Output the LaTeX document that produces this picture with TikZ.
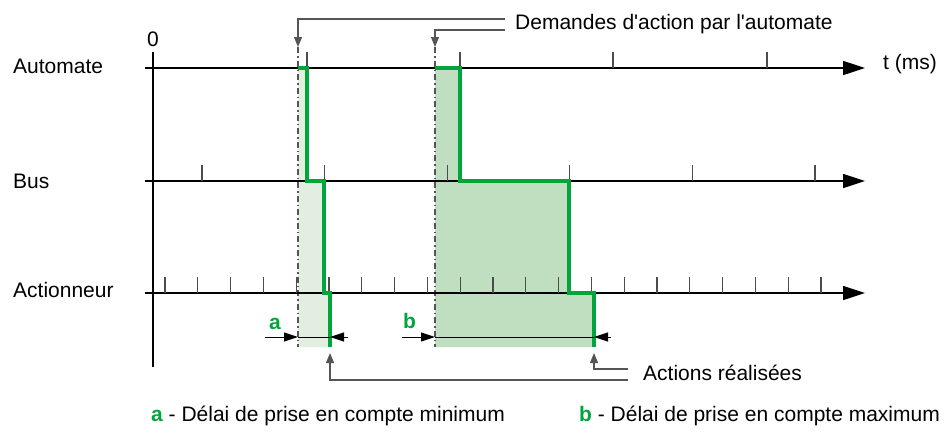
\documentclass[tikz,border=0pt]{standalone}
\usepackage{fontspec}
\setmainfont{Liberation Sans}
\usetikzlibrary{arrows.meta,calc}
\definecolor{signalvert}{RGB}{0,166,60}
\definecolor{fondclair}{RGB}{226,238,224}
\definecolor{fondfonce}{RGB}{192,223,192}
\definecolor{traitgris}{RGB}{85,85,85}

\begin{document}
\begin{tikzpicture}[x=1pt,y=-1pt,
	every node/.style={font=\fontsize{21}{25}\selectfont, inner sep=0pt},
	axe/.style={line width=1.6pt, -{Triangle[length=22pt,width=14pt]}},
	graduation/.style={line width=1.2pt, black!70},
	signal/.style={line width=3.5pt, signalvert, line join=miter},
	repere/.style={line width=1.2pt, traitgris, dash pattern=on 6pt off 3pt on 1.5pt off 3pt},
	renvoi/.style={line width=1.2pt, traitgris, -{Triangle[length=10pt,width=8pt]}},
	cote/.style={line width=1pt, -{Triangle[length=14pt,width=9pt]}},
	lettre/.style={font=\fontsize{21}{25}\selectfont\bfseries, text=signalvert}]
	
	\useasboundingbox (0,0) rectangle (949,432);
	
	% demandes et fins d'action
	\coordinate (dem1) at (298,47);
	\coordinate (dem2) at (435,47);
	\coordinate (fin1) at (330,353);
	\coordinate (fin2) at (594,353);
	
	% zones de delai
	\fill[fondclair] (298,68) -- (307,68) -- (307,181) -- (324,181) -- (324,293) -- (330,293) -- (330,347) -- (298,347) -- cycle;
	\fill[fondfonce] (435,68) -- (460,68) -- (460,181) -- (569,181) -- (569,293) -- (594,293) -- (594,347) -- (435,347) -- cycle;
	
	\draw[repere] (dem1) -- (298,347);
	\draw[repere] (dem2) -- (435,347);
	
	% axes
	\draw[line width=1.6pt] (153,52) -- (153,367);
	\draw[axe] (145,68) -- (865,68);
	\draw[axe] (145,181) -- (865,181);
	\draw[axe] (145,293) -- (865,293);
	
	\foreach \x in {307,460,613,767}
		\draw[graduation] (\x,52) -- (\x,68);
	\foreach \k in {0,...,5}
		\draw[graduation] ({202+122.6*\k},165) -- ++(0,16);
	\foreach \k in {0,...,20}
		\draw[graduation] ({165+32.8*\k},277) -- ++(0,16);
	
	\node[anchor=base] (zero) at (153,46) {0};
	\node[anchor=base west] (temps) at (883,69) {t (ms)};
	\node[anchor=base west] (automate) at (13,73) {Automate};
	\node[anchor=base west] (bus) at (13,188) {Bus};
	\node[anchor=base west] (actionneur) at (13,297) {Actionneur};
	
	% signaux
	\draw[signal] (298,68) -- (307,68) -- (307,181) -- (324,181) -- (324,293) -- (330,293) -- (330,347);
	\draw[signal] (435,68) -- (460,68) -- (460,181) -- (569,181) -- (569,293) -- (594,293) -- (594,347);
	
	% cotes a et b
	\draw[cote] (265,337) -- (298,337);
	\draw[line width=1pt] (298,337) -- (330,337);
	\draw[cote] (348,337) -- (330,337);
	\node[lettre, anchor=base west] (cotea) at (269,329) {a};
	
	\draw[cote] (402,337) -- (435,337);
	\draw[line width=1pt] (435,337) -- (594,337);
	\draw[cote] (611,337) -- (594,337);
	\node[lettre, anchor=base west] (coteb) at (403,328) {b};
	
	% renvois
	\node[anchor=base west] (demandes) at (515,29) {Demandes d\textquotesingle action par l\textquotesingle automate};
	\draw[renvoi] ($(demandes.base west)+(-10,-10)$) -| (dem1);
	\draw[renvoi] ($(demandes.base west)+(-10,1)$) -| (dem2);
	
	\node[anchor=base west] (actions) at (643,380) {Actions réalisées};
	\draw[renvoi] ($(actions.base west)+(-15,0)$) -| (fin1);
	\draw[renvoi] ($(actions.base west)+(-15,-11)$) -| (fin2);
	
	% legende
	\node[anchor=base west] (legendea) at (151,421) {\textcolor{signalvert}{\bfseries a} - Délai de prise en compte minimum};
	\node[anchor=base west] (legendeb) at (579,421) {\textcolor{signalvert}{\bfseries b} - Délai de prise en compte maximum};
\end{tikzpicture}
\end{document}
